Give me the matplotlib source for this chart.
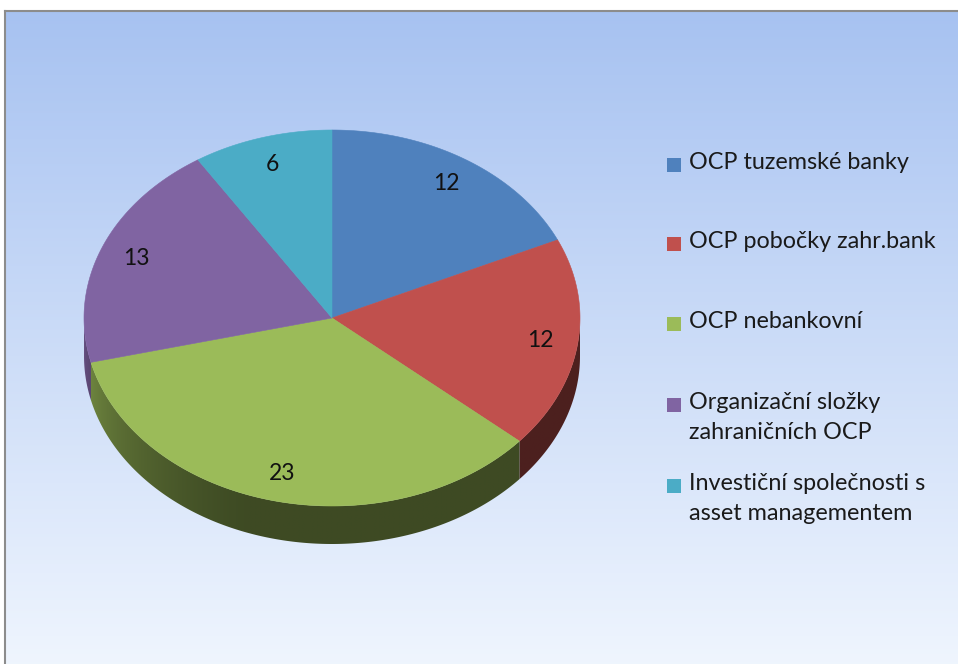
import numpy as np
import matplotlib
matplotlib.use("Agg")
import matplotlib.pyplot as plt
from matplotlib.patches import Polygon, Rectangle

# Data
labels = ["OCP tuzemské banky", "OCP pobočky zahr.bank", "OCP nebankovní",
          "Organizační složky\nzahraničních OCP", "Investiční společnosti s\nasset managementem"]
values = [12, 12, 23, 13, 6]
colors = ["#4f81bd", "#c0504d", "#9bbb59", "#8064a2", "#4bacc6"]

plt.rcParams['font.family'] = ['Lato', 'DejaVu Sans']

W, H = 958, 664
fig = plt.figure(figsize=(W / 100, H / 100), dpi=100)
ax = fig.add_axes([0, 0, 1, 1])
ax.set_xlim(0, W)
ax.set_ylim(H, 0)
ax.axis('off')

# background gradient inside the frame
grad = np.linspace(0, 1, 256).reshape(-1, 1)
top = np.array([0.655, 0.761, 0.945])
bot = np.array([0.937, 0.961, 0.996])
img = top + grad[..., None] * (bot - top)
img = np.repeat(img, 2, axis=1)
ax.imshow(img, extent=[6, W, H, 11], aspect='auto', zorder=0)
ax.plot([5.5, 5.5], [H, 10.5], color="#8c8c8c", lw=1.5, zorder=1)
ax.plot([5.5, W], [10.5, 10.5], color="#8c8c8c", lw=1.5, zorder=1)

# pie geometry (pixels)
cx, cy, rx, ry, depth = 332, 318, 248, 188, 38

def pt(a):
    r = np.radians(a)
    return cx + rx * np.cos(r), cy - ry * np.sin(r)

total = sum(values)
bounds = [90 - 360 * c / total for c in np.concatenate([[0], np.cumsum(values)])]

def shade(a):
    # a in [-180, 0] for the visible front wall
    f = np.full_like(a, 0.40)
    m = a < -110
    f[m] = 0.40 + 0.40 * ((-110 - a[m]) / 70) ** 1.3
    return f

# shading across x for the front wall
xs = np.linspace(cx - rx, cx + rx, 600)
wall_ang = -np.degrees(np.arccos(np.clip((xs - cx) / rx, -1, 1)))
wall_f = shade(wall_ang)

# side wall
for i in range(len(values)):
    a0, a1 = bounds[i], bounds[i + 1]
    angs = np.linspace(a0, a1, 300)
    angs = ((angs + 180) % 360) - 180
    vis = angs[angs <= 0]
    if len(vis) < 2:
        continue
    vis = np.sort(vis)
    topp = [pt(a) for a in vis]
    botp = [(x, y + depth) for x, y in topp[::-1]]
    poly = Polygon(topp + botp, closed=True, facecolor='none', edgecolor='none')
    ax.add_patch(poly)
    base = np.array(matplotlib.colors.to_rgb(colors[i]))
    wimg = np.clip(wall_f[None, :, None] * base[None, None, :], 0, 1)
    im = ax.imshow(wimg, extent=[cx - rx, cx + rx, cy + ry + depth + 2, cy - 2],
                   aspect='auto', zorder=2, interpolation='bilinear')
    im.set_clip_path(poly)

# top faces
for i in range(len(values)):
    angs = np.linspace(bounds[i], bounds[i + 1], 200)
    pts = [(cx, cy)] + [pt(a) for a in angs]
    ax.add_patch(Polygon(pts, closed=True, facecolor=colors[i], edgecolor=colors[i],
                         lw=0.4, zorder=3))

# data labels
for i, v in enumerate(values):
    m = np.radians(0.5 * (bounds[i] + bounds[i + 1]))
    lx = cx + 0.85 * rx * np.cos(m)
    ly = cy - 0.85 * ry * np.sin(m)
    ax.text(lx, ly, str(v), fontsize=16.5, color="#111111", ha='center', va='center', zorder=4)

# legend
leg_y = [165, 244, 324, 405, 486]
for i, lab in enumerate(labels):
    y = leg_y[i]
    ax.add_patch(Rectangle((667, y - 7), 14, 14, facecolor=colors[i], edgecolor='none', zorder=4))
    ax.text(689, y - 13, lab, fontsize=16.8, color="#1a1a1a", ha='left', va='top',
            linespacing=1.55, zorder=4)

fig.savefig("out.png", dpi=100)
